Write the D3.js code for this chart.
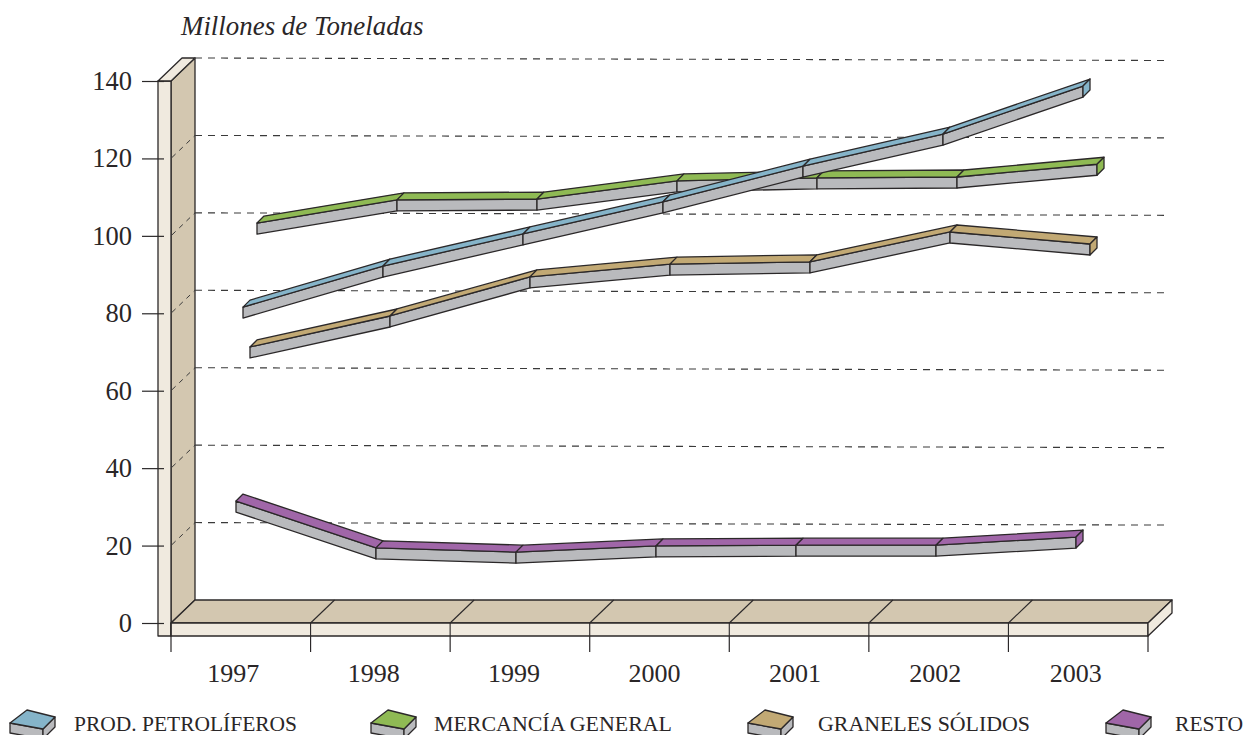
<!DOCTYPE html>
<html><head><meta charset="utf-8">
<script src="https://cdn.jsdelivr.net/npm/d3@7"></script>
<style>html,body{margin:0;padding:0;background:#fff;overflow:hidden}svg{display:block}
text{font-family:"Liberation Serif",serif;fill:#2a2627}</style></head><body><svg id="c" width="1247" height="735"></svg>
<script>
const years = ["1997","1998","1999","2000","2001","2002","2003"];
const yTicks = [0,20,40,60,80,100,120,140];
const seriesNames = ["MERCANCÍA GENERAL","GRANELES SÓLIDOS","RESTO","PROD. PETROLÍFEROS"];
const general = [103.3,109.3,109.5,114.2,115,115.2,118.5];
const solidos = [71.3,79.3,89.4,92.7,93.3,101,97.9];
const resto = [31.5,19.4,18.3,19.9,20.1,20.1,22.2];
const petroleo = [81.6,92.2,100.5,108.8,118,126.3,138.7];
const legendOrder = ["PROD. PETROLÍFEROS","MERCANCÍA GENERAL","GRANELES SÓLIDOS","RESTO"];
const title = "Millones de Toneladas";

const seriesValues = {"MERCANCÍA GENERAL":general,"GRANELES SÓLIDOS":solidos,"RESTO":resto,"PROD. PETROLÍFEROS":petroleo};
const colors = {"PROD. PETROLÍFEROS":"#85b4c9","MERCANCÍA GENERAL":"#8fba54","GRANELES SÓLIDOS":"#c2a974","RESTO":"#a066a8"};
const seriesShift = {"RESTO":65,"PROD. PETROLÍFEROS":72,"GRANELES SÓLIDOS":79,"MERCANCÍA GENERAL":86};
const legendIconX = {"PROD. PETROLÍFEROS":10,"MERCANCÍA GENERAL":371,"GRANELES SÓLIDOS":748,"RESTO":1106};
const legendTextX = {"PROD. PETROLÍFEROS":74,"MERCANCÍA GENERAL":434,"GRANELES SÓLIDOS":818,"RESTO":1175};
const legendTextW = {"PROD. PETROLÍFEROS":223,"MERCANCÍA GENERAL":238,"GRANELES SÓLIDOS":212,"RESTO":68};

const ink="#2b2829", wallFront="#f0eadf", wallSide="#d3c7b0", gray="#b9babd";
const svg=d3.select("#c");
const x=d3.scaleBand().domain(years).range([171,1148]);
const xMarks=d3.scaleBand().domain(years).range([171,1151]);
const xLabels=d3.scaleBand().domain(years).range([171,1154]);
const y=d3.scaleLinear().domain([0,140]).range([623,81]);
const depthX=24, depthY=-23, floorH=13;
const line=d3.line();
const poly=(pts,fill,sw=1.3,stroke=ink)=>svg.append("path").attr("d",line(pts)+"Z").attr("fill",fill).attr("stroke",stroke).attr("stroke-width",sw).attr("stroke-linejoin","round");

// walls
const x0=x.range()[0], x1=x.range()[1], yb=y(0), yt=y(140);
poly([[x0,yt],[x0+depthX,yt+depthY],[x0+depthX,yb+depthY],[x0,yb]],wallSide);
poly([[x0-13,yt],[x0,yt],[x0,yb+floorH],[x0-13,yb+floorH]],wallFront);
poly([[x0-13,yt],[x0-13+depthX,yt+depthY],[x0+depthX,yt+depthY],[x0,yt]],wallFront);
// floor
poly([[x0,yb],[x0+depthX,yb+depthY],[x1+depthX,yb+depthY],[x1,yb]],wallSide);
poly([[x0,yb],[x1,yb],[x1,yb+floorH],[x0,yb+floorH]],wallFront);
poly([[x1,yb],[x1+depthX,yb+depthY],[x1+depthX,yb+depthY+floorH],[x1,yb+floorH]],wallFront);

// gridlines
yTicks.filter(v=>v>0).forEach(v=>{
  svg.append("path").attr("d",line([[x0+depthX,y(v)+depthY],[1170,y(v)+depthY+2.5]]))
    .attr("stroke","#3a3a3a").attr("stroke-width",1.1).attr("stroke-dasharray","7 6").attr("fill","none");
  svg.append("path").attr("d",line([[x0+1,y(v)-1],[x0+depthX,y(v)+depthY]]))
    .attr("stroke","#3a3a3a").attr("stroke-width",1).attr("stroke-dasharray","5 5").attr("fill","none");
});

// y axis
const yAxis=svg.append("g").attr("transform","translate(164,0)")
  .call(d3.axisLeft(y).tickValues(yTicks).tickSize(22).tickPadding(10));
yAxis.select(".domain").remove();
yAxis.selectAll("line").attr("stroke",ink).attr("stroke-width",1.2);
yAxis.selectAll("text").attr("font-size",26.5);
yAxis.attr("font-family",null);

// x ticks and floor divisions
const edges=years.map(d=>x(d)).concat([x1]);
edges.forEach((e,i)=>{
  svg.append("path").attr("d",line([[e,i==0?yb:yb+floorH],[e,yb+floorH+16]])).attr("stroke",ink).attr("stroke-width",1.2);
  if(i>0&&i<years.length){
    svg.append("path").attr("d",line([[e,yb],[e+depthX,yb+depthY]])).attr("stroke",ink).attr("stroke-width",1.1);
    svg.append("path").attr("d",line([[e,yb],[e,yb+floorH]])).attr("stroke",ink).attr("stroke-width",1.1);
  }
});
const xAxis=svg.append("g").attr("transform","translate(-8,652)")
  .call(d3.axisBottom(xLabels).tickSize(0).tickPadding(12));
xAxis.select(".domain").remove();
xAxis.selectAll("text").attr("font-size",26);
xAxis.attr("font-family",null);

// ribbons
const dx=7, dy=-7, h=11;
seriesNames.forEach(name=>{
  const vals=seriesValues[name], c=colors[name];
  const pts=years.map((d,i)=>[xMarks(d)+seriesShift[name],y(vals[i])]);
  d3.pairs(pts).forEach(([a,b])=>{
    poly([[a[0],a[1]],[b[0],b[1]],[b[0],b[1]+h],[a[0],a[1]+h]],gray);
    poly([[a[0],a[1]],[a[0]+dx,a[1]+dy],[b[0]+dx,b[1]+dy],[b[0],b[1]]],c);
  });
  const e=pts[pts.length-1];
  poly([[e[0],e[1]],[e[0]+dx,e[1]+dy],[e[0]+dx,e[1]+dy+h],[e[0],e[1]+h]],c);
});

// title
svg.append("text").attr("x",181).attr("y",35).attr("font-size",26.9).attr("font-style","italic").text(title);

// legend
legendOrder.forEach(name=>{
  const lx=legendIconX[name];
  poly([[0,13],[33,19],[33,29],[0,23]].map(p=>[lx+p[0],710+p[1]]),gray);
  poly([[33,19],[45,7],[45,17],[33,29]].map(p=>[lx+p[0],710+p[1]]),gray);
  poly([[0,13],[17,0],[45,7],[33,19]].map(p=>[lx+p[0],710+p[1]]),colors[name]);
  svg.append("text").attr("x",legendTextX[name]).attr("y",731).attr("font-size",22)
    .attr("textLength",legendTextW[name]).attr("lengthAdjust","spacingAndGlyphs").text(name);
});
</script></body></html>
